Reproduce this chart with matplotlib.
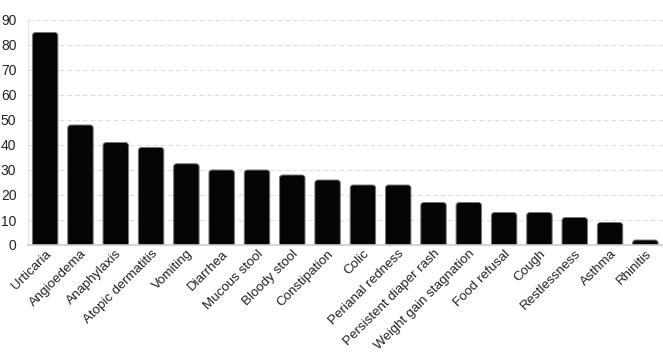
import matplotlib
matplotlib.use("Agg")
import matplotlib.pyplot as plt
from matplotlib.patches import FancyBboxPatch

# data
symptoms = ["Urticaria", "Angioedema", "Anaphylaxis", "Atopic dermatitis", "Vomiting",
            "Diarrhea", "Mucous stool", "Bloody stool", "Constipation", "Colic",
            "Perianal redness", "Persistent diaper rash", "Weight gain stagnation",
            "Food refusal", "Cough", "Restlessness", "Asthma", "Rhinitis"]
counts = [85, 48, 41, 39, 32.5, 30, 30, 28, 26, 24, 24, 17, 17, 13, 13, 11, 9, 2]
yticks = [0, 10, 20, 30, 40, 50, 60, 70, 80, 90]

plt.rcParams['font.family'] = ['Liberation Sans', 'DejaVu Sans']

fig = plt.figure(figsize=(6.63, 3.53), dpi=100)
ax = fig.add_axes([27.5 / 663, (353 - 245) / 353, 635.5 / 663, 225 / 353])

width = 0.72
for i, v in enumerate(counts):
    # rounded top corners; bottom goes below zero and gets clipped
    p = FancyBboxPatch((i - width / 2, -3), width, v + 3,
                       boxstyle="round,pad=0,rounding_size=0.09",
                       mutation_aspect=13,
                       facecolor="#050505", edgecolor="#777777", linewidth=0.7,
                       zorder=3)
    ax.add_patch(p)

ax.set_xlim(-0.5, len(counts) - 0.5)
ax.set_ylim(0, 90)
ax.set_yticks(yticks)
ax.set_xticks(range(len(symptoms)))
ax.set_xticklabels(symptoms, rotation=45, ha="right", rotation_mode="anchor",
                   fontsize=9.6)

ax.grid(axis="y", color="#dddddd", linestyle=(0, (4, 3)), linewidth=0.8, zorder=0)
ax.set_axisbelow(True)

for s in ["top", "right"]:
    ax.spines[s].set_visible(False)
ax.spines["left"].set_color("#e6e6e6")
ax.spines["bottom"].set_color("#cccccc")
ax.spines["bottom"].set_linewidth(1.2)
ax.spines["bottom"].set_zorder(4)

ax.tick_params(axis="y", length=0, labelsize=10, labelcolor="#222222", pad=8)
ax.tick_params(axis="x", length=0, labelcolor="#222222", pad=2)

fig.savefig("out.png", dpi=100)
